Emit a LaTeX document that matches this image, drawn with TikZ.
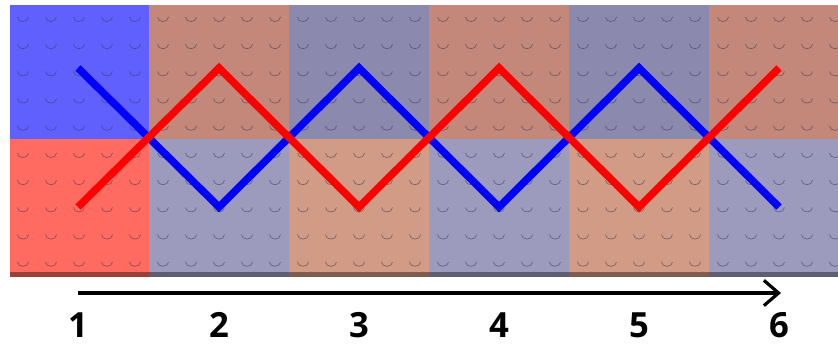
\documentclass[tikz,border=0pt]{standalone}
\usepackage{fontspec}
\setmainfont{Open Sans}
\usepackage{xcolor}
\usepackage{tikz}
\usetikzlibrary{arrows.meta}
\definecolor{ZZBlue}{HTML}{6060FF}
\definecolor{ZZRed}{HTML}{FF6B60}
\definecolor{ZZBrown}{HTML}{C3887A}
\definecolor{ZZBrownLow}{HTML}{D29B86}
\definecolor{ZZGray}{HTML}{8B89AE}
\definecolor{ZZGrayLow}{HTML}{9D9BBD}
\definecolor{ZZStud}{HTML}{3A3A55}
\tikzset{
  stud/.style={draw=ZZStud,draw opacity=.6,line width=.5pt},
  zigline/.style={line width=5.6pt,line cap=butt,line join=miter},
  steplabel/.style={font=\fontsize{26}{28}\selectfont\bfseries,anchor=center,inner sep=0pt}
}

\begin{document}
\begin{tikzpicture}[x=0.75pt,y=-0.75pt]
\path[use as bounding box] (0,0) rectangle (838,347);
\fill[white] (0,0) rectangle (838,347);
\fill[ZZBlue] (10,5) rectangle (149,139);
\fill[ZZBrown] (149,5) rectangle (289,139);
\fill[ZZGray] (289,5) rectangle (429,139);
\fill[ZZBrown] (429,5) rectangle (569,139);
\fill[ZZGray] (569,5) rectangle (709,139);
\fill[ZZBrown] (709,5) rectangle (838,139);
\fill[ZZRed] (10,139) rectangle (149,277);
\fill[ZZGrayLow] (149,139) rectangle (289,277);
\fill[ZZBrownLow] (289,139) rectangle (429,277);
\fill[ZZGrayLow] (429,139) rectangle (569,277);
\fill[ZZBrownLow] (569,139) rectangle (709,277);
\fill[ZZGrayLow] (709,139) rectangle (838,277);
\fill[black,opacity=.4] (10,272) rectangle (838,277);
\foreach \i in {0,...,29}
  \foreach \j in {0,...,9}
    \draw[stud] (23+28*\i-5.5,17+27.2*\j) .. controls (23+28*\i-5.5,17+27.2*\j+6) and (23+28*\i+5.5,17+27.2*\j+6) .. (23+28*\i+5.5,17+27.2*\j);
\draw[zigline,blue] (78,68) -- (219,207) -- (359,68) -- (499,207) -- (639,68) -- (779,207);
\draw[zigline,red] (78,207) -- (219,68) -- (359,207) -- (499,68) -- (639,207) -- (779,68);
\coordinate (arrL) at (78,293);
\coordinate (arrR) at (781,293);
\draw[line width=2.4pt,-{Straight Barb[length=11pt,width=19pt,line width=2.4pt]}] (arrL) -- (arrR);
\node[steplabel] (n1) at (78,325) {1};
\node[steplabel] (n2) at (219,325) {2};
\node[steplabel] (n3) at (359,325) {3};
\node[steplabel] (n4) at (499,325) {4};
\node[steplabel] (n5) at (639,325) {5};
\node[steplabel] (n6) at (779,325) {6};
\end{tikzpicture}
\end{document}
